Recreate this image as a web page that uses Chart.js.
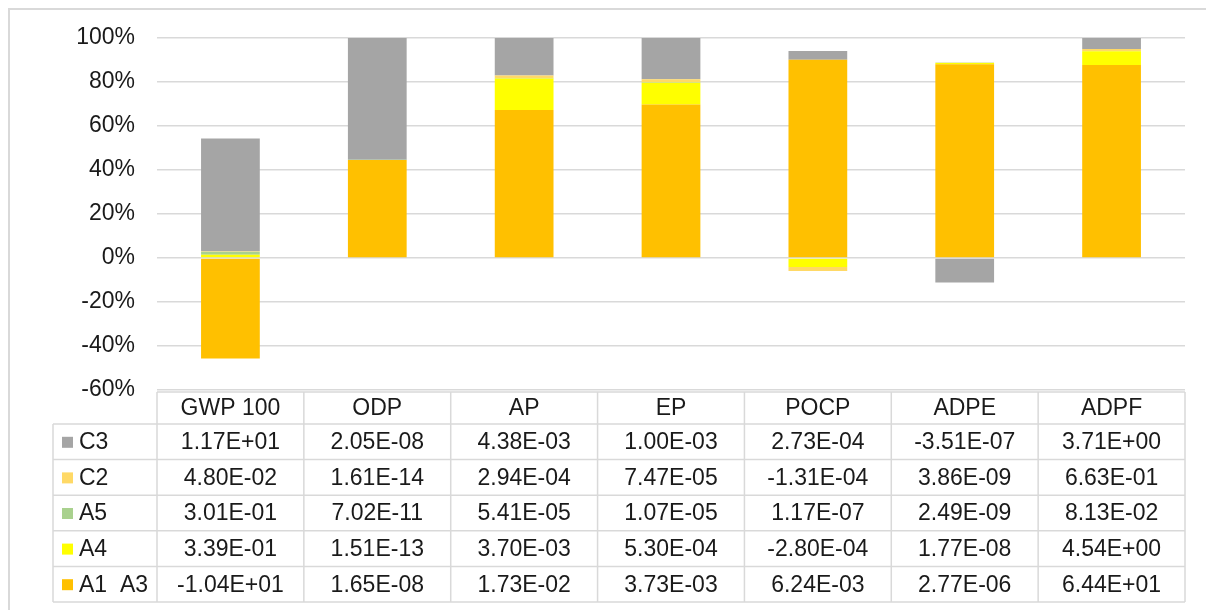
<!DOCTYPE html>
<html lang="en">
<head>
  <meta charset="UTF-8" />
  <title>Impact shares by module</title>
  <script src="https://cdn.jsdelivr.net/npm/chart.js"></script>
  <style>
    html, body { margin: 0; padding: 0; background: #fff; }
    #wrap { width: 1206px; height: 610px; position: relative; }
  </style>
</head>
<body>
  <div id="wrap"><canvas id="impactChart" width="1206" height="610"></canvas></div>

  <script>
    // categories (impact indicators)
    const categories = ["GWP 100", "ODP", "AP", "EP", "POCP", "ADPE", "ADPF"];

    // share of each module in the indicator (percent of absolute total)
    const a1a3Pct = [-45.64, 44.51, 67.24, 69.78, 90.12, 88.07, 87.75];
    const a4Pct   = [1.49, 0.0004, 14.38, 9.92, -4.04, 0.56, 6.19];
    const a5Pct   = [1.32, 0.19, 0.21, 0.20, 0.0017, 0.08, 0.11];
    const c2Pct   = [0.21, 0.00004, 1.14, 1.40, -1.89, 0.12, 0.90];
    const c3Pct   = [51.34, 55.30, 17.02, 18.71, 3.94, -11.16, 5.05];

    // values printed in the data table
    const c3Text   = ["1.17E+01", "2.05E-08", "4.38E-03", "1.00E-03", "2.73E-04", "-3.51E-07", "3.71E+00"];
    const c2Text   = ["4.80E-02", "1.61E-14", "2.94E-04", "7.47E-05", "-1.31E-04", "3.86E-09", "6.63E-01"];
    const a5Text   = ["3.01E-01", "7.02E-11", "5.41E-05", "1.07E-05", "1.17E-07", "2.49E-09", "8.13E-02"];
    const a4Text   = ["3.39E-01", "1.51E-13", "3.70E-03", "5.30E-04", "-2.80E-04", "1.77E-08", "4.54E+00"];
    const a1a3Text = ["-1.04E+01", "1.65E-08", "1.73E-02", "3.73E-03", "6.24E-03", "2.77E-06", "6.44E+01"];

    const yTicks = [-60, -40, -20, 0, 20, 40, 60, 80, 100];

    const FONT = "Liberation Sans, Arial, sans-serif";
    const TEXT = "#1a1a1a";
    const GRID = "#d9d9d9";

    // table rows, top to bottom
    const tableRows = [
      { label: "C3", color: "#A5A5A5", cells: c3Text },
      { label: "C2", color: "#FFD966", cells: c2Text },
      { label: "A5", color: "#A9D18E", cells: a5Text },
      { label: "A4", color: "#FFFF00", cells: a4Text },
      { label: "A1  A3", color: "#FFC000", cells: a1a3Text },
    ];

    const dataTablePlugin = {
      id: "dataTable",
      beforeDraw(chart) {
        const c = chart.ctx;
        c.save();
        c.strokeStyle = GRID;
        c.lineWidth = 2;
        c.beginPath();
        c.moveTo(9, 610); c.lineTo(9, 9); c.lineTo(1206, 9);
        c.stroke();
        c.restore();
      },
      afterDraw(chart) {
        const c = chart.ctx;
        const x = chart.scales.x;
        const area = chart.chartArea;
        const colW = (area.right - area.left) / categories.length;
        const left = 53;
        const headTop = 392, headBot = 424, rowH = 35.6;
        const bottom = headBot + rowH * tableRows.length;

        c.save();
        c.strokeStyle = GRID;
        c.lineWidth = 1.5;
        c.beginPath();
        c.moveTo(area.left, headTop); c.lineTo(area.right, headTop);
        for (let r = 0; r <= tableRows.length; r++) {
          const y = headBot + r * rowH;
          c.moveTo(left, y); c.lineTo(area.right, y);
        }
        c.moveTo(left, headBot); c.lineTo(left, bottom);
        for (let i = 0; i <= categories.length; i++) {
          const xx = area.left + i * colW;
          c.moveTo(xx, headTop); c.lineTo(xx, bottom);
        }
        c.stroke();

        c.fillStyle = TEXT;
        c.font = "23px " + FONT;
        c.textBaseline = "middle";
        c.textAlign = "center";
        categories.forEach((cat, i) => {
          c.fillText(cat, x.getPixelForValue(i), (headTop + headBot) / 2 + 1);
        });
        tableRows.forEach((row, r) => {
          const yc = headBot + r * rowH + rowH / 2 + 1;
          c.textAlign = "center";
          c.fillStyle = TEXT;
          row.cells.forEach((txt, i) => c.fillText(txt, x.getPixelForValue(i), yc));
          c.fillStyle = row.color;
          c.fillRect(62, yc - 6, 11, 11);
          c.fillStyle = TEXT;
          c.textAlign = "left";
          c.fillText(row.label, 79, yc);
        });
        c.restore();
      }
    };

    const ds = (label, data, color) => ({
      label, data,
      backgroundColor: color,
      borderWidth: 0,
      barPercentage: 0.4,
      categoryPercentage: 1.0,
    });

    new Chart(document.getElementById("impactChart"), {
      type: "bar",
      data: {
        labels: categories,
        datasets: [
          ds("A1  A3", a1a3Pct, "#FFC000"),
          ds("A4", a4Pct, "#FFFF00"),
          ds("A5", a5Pct, "#A9D18E"),
          ds("C2", c2Pct, "#FFD966"),
          ds("C3", c3Pct, "#A5A5A5"),
        ],
      },
      options: {
        responsive: false,
        animation: false,
        layout: { padding: { top: 38, bottom: 220, right: 21, left: 0 } },
        plugins: { legend: { display: false }, tooltip: { enabled: false } },
        scales: {
          x: { stacked: true, display: false, offset: true },
          y: {
            stacked: true,
            min: -60, max: 100,
            afterFit(scale) { scale.width = 157; },
            afterBuildTicks(scale) { scale.ticks = yTicks.map(v => ({ value: v })); },
            border: { display: false },
            grid: { color: GRID, lineWidth: 1.5, drawTicks: false },
            ticks: {
              padding: 22,
              color: TEXT,
              font: { family: FONT, size: 23 },
              callback: v => v + "%",
            },
          },
        },
      },
      plugins: [dataTablePlugin],
    });
  </script>
</body>
</html>
